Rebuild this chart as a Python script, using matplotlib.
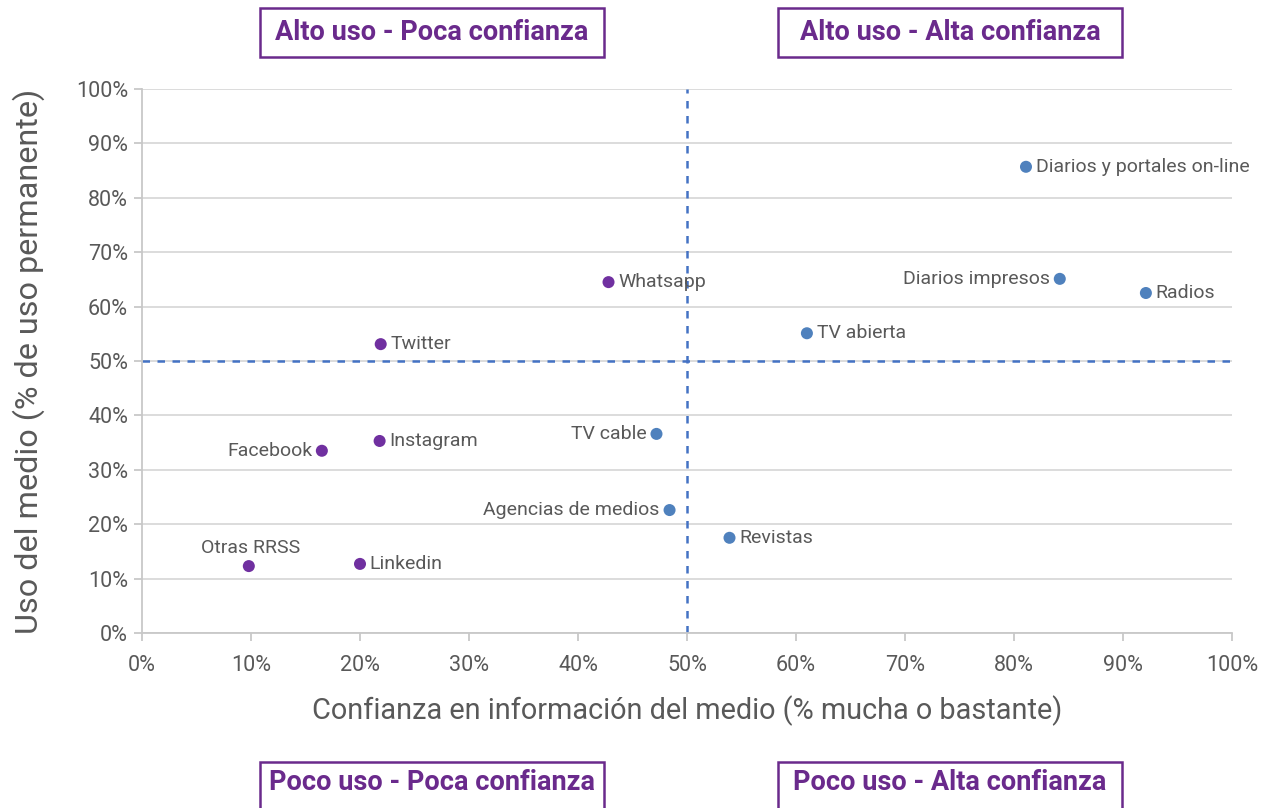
import matplotlib
matplotlib.use("Agg")
import matplotlib.pyplot as plt
from matplotlib.patches import Rectangle
from matplotlib.ticker import PercentFormatter, MultipleLocator

plt.rcParams['font.family'] = ['Roboto', 'DejaVu Sans']

medios = ["Diarios y portales on-line", "Diarios impresos", "Radios", "TV abierta",
          "Whatsapp", "Twitter", "Instagram", "Facebook", "TV cable",
          "Agencias de medios", "Revistas", "Otras RRSS", "Linkedin"]
confianza = [81.1, 84.2, 92.1, 61.0, 42.8, 21.9, 21.8, 16.5, 47.2, 48.4, 53.9, 9.8, 20.0]
uso = [85.7, 65.1, 62.5, 55.1, 64.5, 53.1, 35.3, 33.5, 36.6, 22.6, 17.5, 12.3, 12.7]
grupo = ["medio", "medio", "medio", "medio", "rrss", "rrss", "rrss", "rrss", "medio",
         "medio", "medio", "rrss", "rrss"]
posicion = ["right", "left", "right", "right", "right", "right", "right", "left", "left",
            "left", "right", "top", "right"]

cuadrantes = ["Alto uso - Poca confianza", "Alto uso - Alta confianza",
              "Poco uso - Poca confianza", "Poco uso - Alta confianza"]

colores = {"medio": "#4F81BD", "rrss": "#7030A0"}
gris = "#595959"
morado = "#6A2A8C"

W, H = 1267, 808
fig = plt.figure(figsize=(W / 100, H / 100), dpi=100)
ax = fig.add_axes([142 / W, 1 - 633 / H, (1232 - 142) / W, (633 - 89) / H])

ax.set_xlim(0, 100)
ax.set_ylim(0, 100)
ax.xaxis.set_major_locator(MultipleLocator(10))
ax.yaxis.set_major_locator(MultipleLocator(10))
ax.xaxis.set_major_formatter(PercentFormatter(decimals=0))
ax.yaxis.set_major_formatter(PercentFormatter(decimals=0))
ax.grid(axis='y', color="#D9D9D9", linewidth=1.3)
ax.set_axisbelow(True)
for s in ["top", "right"]:
    ax.spines[s].set_visible(False)
for s in ["left", "bottom"]:
    ax.spines[s].set_color("#C8C8C8")
    ax.spines[s].set_linewidth(1.3)
ax.tick_params(axis='both', colors="#C8C8C8", labelcolor=gris, labelsize=15.5, length=6, width=1.3)
ax.tick_params(axis='x', pad=10)
ax.tick_params(axis='y', pad=4)

# reference lines
ax.axvline(50, color="#4472C4", linestyle=(0, (3, 3)), linewidth=1.8, zorder=2)
ax.plot([0, 100.5], [50, 50], color="#4472C4", linestyle=(0, (3, 3)), linewidth=1.8,
        zorder=2, clip_on=False)

for name, x, y, g, p in zip(medios, confianza, uso, grupo, posicion):
    ax.scatter(x, y, s=75, color=colores[g], zorder=3, edgecolors='none')
    if p == "right":
        ax.annotate(name, (x, y), xytext=(7, 0), textcoords="offset points",
                    ha="left", va="center", fontsize=14, color=gris)
    elif p == "left":
        ax.annotate(name, (x, y), xytext=(-7, 0), textcoords="offset points",
                    ha="right", va="center", fontsize=14, color=gris)
    else:
        ax.annotate(name, (x, y), xytext=(1, 13), textcoords="offset points",
                    ha="center", va="center", fontsize=14, color=gris)

ax.set_xlabel("Confianza en información del medio (% mucha o bastante)",
              fontsize=20.8, color=gris, labelpad=14)
ax.set_ylabel("Uso del medio (% de uso permanente)", fontsize=23.3, color=gris)
ax.yaxis.set_label_coords(-(142 - 45) / (1232 - 142), 0.5)

# quadrant boxes
boxes = [(260, 8, 604, 57), (778, 8, 1122, 57), (260, 762, 604, 820), (778, 762, 1122, 820)]
for (x0, y0, x1, y1), txt in zip(boxes, cuadrantes):
    fig.patches.append(Rectangle((x0 / W, 1 - y1 / H), (x1 - x0) / W, (y1 - y0) / H,
                                 transform=fig.transFigure, fill=False,
                                 edgecolor=morado, linewidth=1.8))
    ty = 32 if y0 < 100 else 783
    fig.text((x0 + x1) / 2 / W, 1 - ty / H, txt, ha="center", va="center",
             fontsize=19.5, fontweight="bold", color=morado)

fig.savefig("out.png", dpi=100)
